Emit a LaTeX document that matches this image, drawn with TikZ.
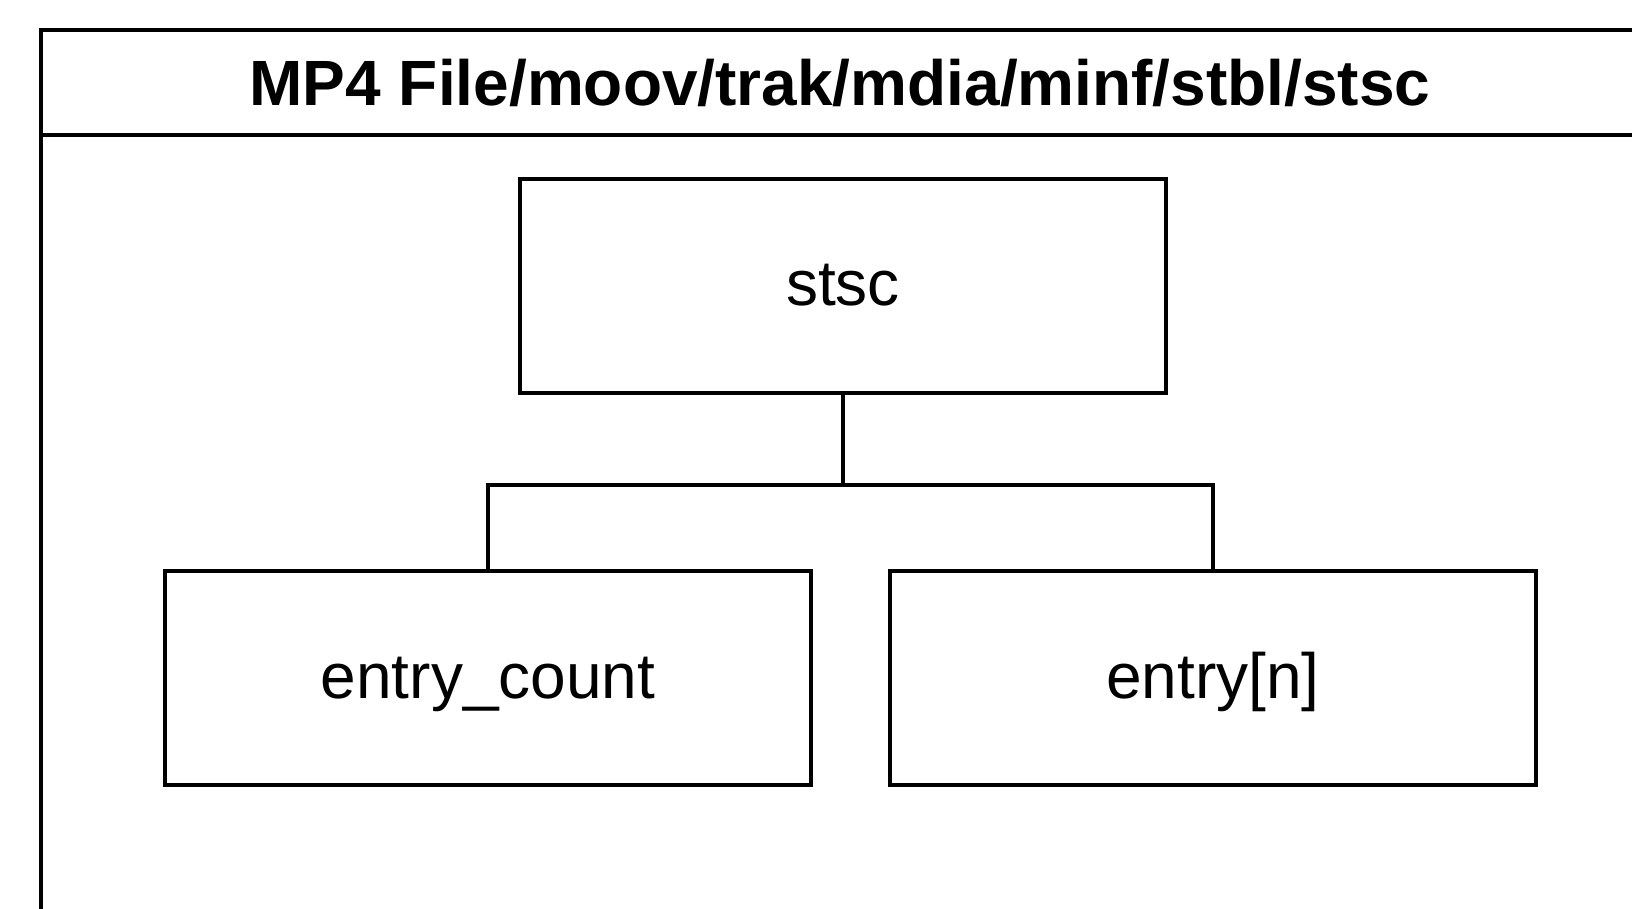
\documentclass[tikz,border=0pt]{standalone}
\usepackage{fontspec}
\setmainfont{Liberation Sans}

\begin{document}
\begin{tikzpicture}[x=0.5pt,y=-0.5pt,line width=2pt]
    \tikzstyle{field}=[draw,rectangle,minimum width=323pt,minimum height=107pt,inner sep=0pt,text height=20pt,text depth=0pt,font=\fontsize{32}{38}\selectfont]
    \tikzstyle{link}=[line width=1.7pt]
    \tikzstyle{heading}=[font=\fontsize{32}{38}\selectfont\bfseries,text height=23pt,text depth=0pt,inner sep=0pt]

    \useasboundingbox (0,0) rectangle (1632,909);
    \clip (0,0) rectangle (1632,909);
    \draw (41,960) -- (41,30) -- (1680,30);
    \draw (41,135) -- (1680,135);
    \node[heading] (title) at (840,83) {MP4 File/moov/trak/mdia/minf/stbl/stsc};

    \node[field] (stsc) at (843,286) {stsc};
    \node[field] (entrycount) at (488,678) {entry\_count};
    \node[field] (entryn) at (1213,678) {entry[n]};
    \coordinate (split) at (843,485);
    \draw[link] (stsc.south) -- (split);
    \draw[link] (entrycount.north) |- (split) -| (entryn.north);
\end{tikzpicture}
\end{document}
